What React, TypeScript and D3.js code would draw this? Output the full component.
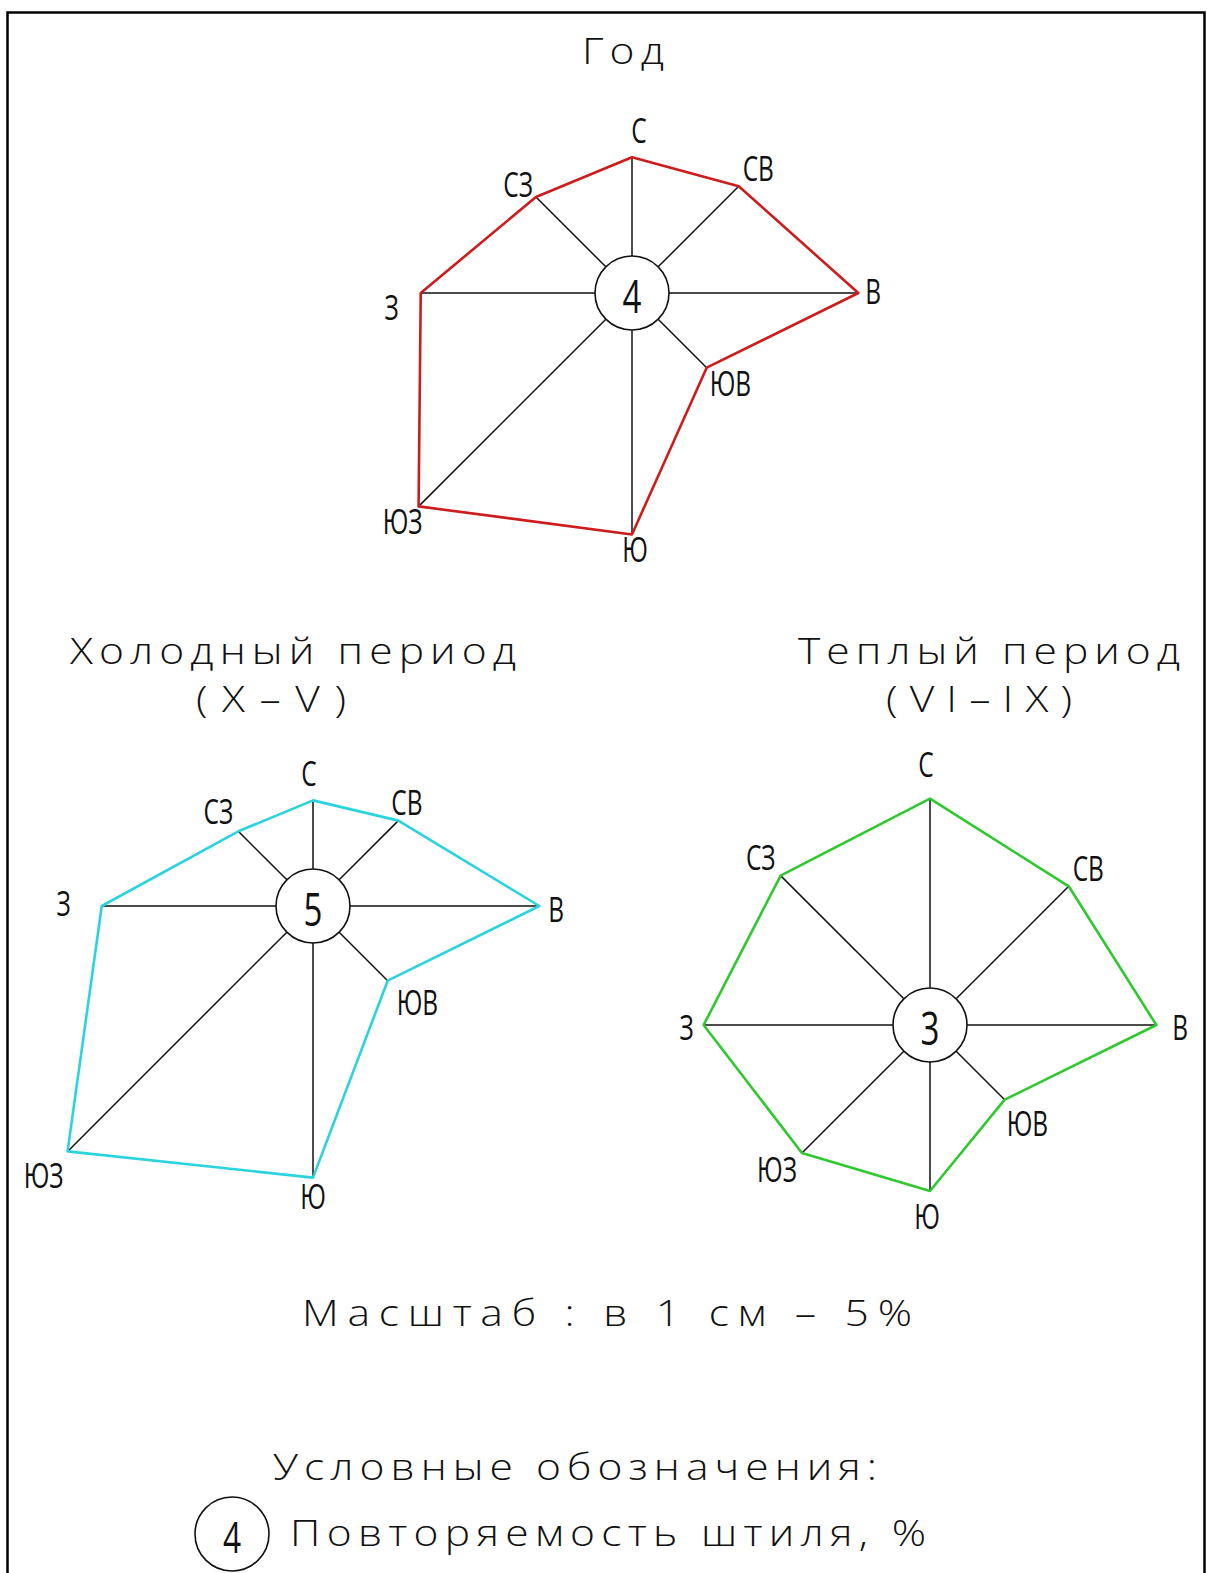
import * as d3 from 'd3'

// wind directions, clockwise from north
const directions = ['С', 'СВ', 'В', 'ЮВ', 'Ю', 'ЮЗ', 'З', 'СЗ']

// repeatability of wind directions, %
const yearValues = [9, 10, 15, 7, 16, 20, 14, 9]
const coldValues = [7, 8, 15, 7, 18, 23, 14, 7]
const warmValues = [15, 13, 15, 7, 11, 12, 15, 14]

// calm repeatability, % (year, cold, warm)
const calmValues = [4, 5, 3]

const roseTitles = ['Год', 'Холодный период', 'Теплый период']
const roseSubtitles = ['', '(X–V)', '(VI–IX)']

const scaleText = 'Масштаб : в 1 см – 5%'
const legendTitle = 'Условные обозначения:'
const legendText = 'Повторяемость штиля, %'
const legendCalm = 4

const W = 1207
const H = 1573
const CIRCLE_R = 37

// 1 cm on the drawing = 5 %
const radius = d3.scaleLinear().domain([0, 5]).range([0, 75.45])
const angle = d3.scaleLinear().domain([0, directions.length]).range([0, 2 * Math.PI])

const thinFont = '"Open Sans", "Roboto", "DejaVu Sans", sans-serif'

// hand placed label offsets like on the original CAD sheet: [dx, dy, anchor]
const yearLabelPos = [[7, -14, 'middle'], [4, -5, 'start'], [7, 11, 'start'], [3, 28, 'start'], [3, 28, 'middle'], [4, 28, 'end'], [-22, 27, 'end'], [-3, 0, 'end']]
const coldLabelPos = [[-4, -14, 'middle'], [-7, -6, 'start'], [9, 16, 'start'], [9, 34, 'start'], [0, 31, 'middle'], [-4, 37, 'end'], [-31, 10, 'end'], [-5, -7, 'end']]
const warmLabelPos = [[-4, -22, 'middle'], [4, -5, 'start'], [16, 15, 'start'], [2, 36, 'start'], [-3, 38, 'middle'], [-5, 29, 'end'], [-10, 15, 'end'], [-5, -6, 'end']]

// narrow CAD-like lettering: a sans squeezed horizontally
const NarrowText = ({ x, y, size, anchor = 'start', children, central = false }) => (
  <g transform={`translate(${x},${y}) scale(0.72,1)`}>
    <text
      textAnchor={anchor}
      dominantBaseline={central ? 'central' : 'auto'}
      fontFamily={thinFont}
      fontWeight={400}
      fontSize={size}
      fill='#111'
    >
      {children}
    </text>
  </g>
)

const Rose = ({ cx, cy, values, calm, color, labelPos }) => {
  const outline = d3
    .lineRadial()
    .angle((d, i) => angle(i))
    .radius((d) => radius(d))
    .curve(d3.curveLinearClosed)

  return (
    <g transform={`translate(${cx},${cy})`}>
      {values.map((v, i) => {
        const [x0, y0] = d3.pointRadial(angle(i), CIRCLE_R)
        const [x1, y1] = d3.pointRadial(angle(i), radius(v))
        return <line key={'s' + i} x1={x0} y1={y0} x2={x1} y2={y1} stroke='#111' strokeWidth={1.5} />
      })}
      <path d={outline(values)} fill='none' stroke={color} strokeWidth={2.6} strokeLinejoin='round' />
      <circle r={CIRCLE_R} fill='white' stroke='#111' strokeWidth={1.6} />
      <NarrowText x={0} y={2} size={46} anchor='middle' central>
        {calm}
      </NarrowText>
      {values.map((v, i) => {
        const [x, y] = d3.pointRadial(angle(i), radius(v))
        const [dx, dy, anchor] = labelPos[i]
        return (
          <NarrowText key={'l' + i} x={x + dx} y={y + dy} size={34} anchor={anchor}>
            {directions[i]}
          </NarrowText>
        )
      })}
    </g>
  )
}

// wide, spaced CAD lettering for titles
const STRETCH = 1.15
const Title = ({ x, y, width, children }) => (
  <g transform={`translate(${x},${y}) scale(${STRETCH},1)`}>
    <text
      textLength={width / STRETCH}
      lengthAdjust='spacing'
      fontFamily={thinFont}
      fontWeight={300}
      fontSize={37}
      fill='#111'
    >
      {children}
    </text>
  </g>
)

const App = () => {
  return (
    <div style={{ position: 'absolute', left: 0, top: 0 }}>
      <svg width={W} height={H} style={{ display: 'block', background: 'white' }}>
        <path d={`M7.5,${H + 5} V12.5 H1204.5 V${H + 5}`} fill='none' stroke='#000' strokeWidth={2.5} />

        <Title x={582} y={64} width={82}>{roseTitles[0]}</Title>
        <Title x={70} y={664} width={446}>{roseTitles[1]}</Title>
        <Title x={196} y={712} width={150}>{roseSubtitles[1]}</Title>
        <Title x={798} y={664} width={382}>{roseTitles[2]}</Title>
        <Title x={886} y={712} width={186}>{roseSubtitles[2]}</Title>

        <Rose cx={632} cy={293} values={yearValues} calm={calmValues[0]} color='#cc1c1c' labelPos={yearLabelPos} />
        <Rose cx={313} cy={906} values={coldValues} calm={calmValues[1]} color='#2bd3de' labelPos={coldLabelPos} />
        <Rose cx={930} cy={1025} values={warmValues} calm={calmValues[2]} color='#2fc82f' labelPos={warmLabelPos} />

        <Title x={302} y={1326} width={610}>{scaleText}</Title>
        <Title x={273} y={1480} width={604}>{legendTitle}</Title>

        <circle cx={232} cy={1534} r={CIRCLE_R} fill='white' stroke='#111' strokeWidth={1.6} />
        <NarrowText x={232} y={1536} size={44} anchor='middle' central>
          {legendCalm}
        </NarrowText>
        <Title x={290} y={1546} width={636}>{legendText}</Title>
      </svg>
    </div>
  )
}

export default App
